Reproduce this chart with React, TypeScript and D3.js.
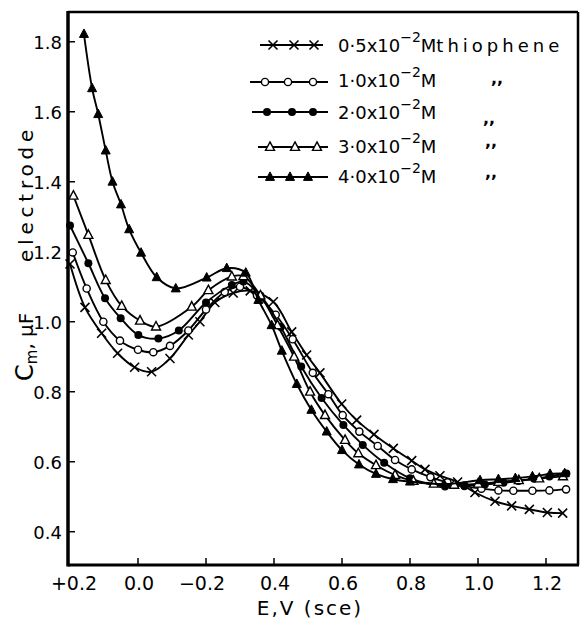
import React from "react";
import * as d3 from "d3";

// x values are plotted positions: -0.2 is the "+0.2" tick
const xTickValues = [-0.2, 0, 0.2, 0.4, 0.6, 0.8, 1.0, 1.2];
const xTickLabels = ["+0.2", "0.0", "\u22120.2", "0.4", "0.6", "0.8", "1.0", "1.2"];
const yTickValues = [0.4, 0.6, 0.8, 1.0, 1.2, 1.4, 1.6, 1.8];

const seriesNames = ["0.5", "1.0", "2.0", "3.0", "4.0"];
const seriesMarkers = ["cross", "openCircle", "filledCircle", "openTriangle", "filledTriangle"];

const s05: [number, number][] = [
  [-0.2, 1.165], [-0.156, 1.041], [-0.107, 0.967], [-0.06, 0.91], [-0.01, 0.87], [0.04, 0.857],
  [0.094, 0.895], [0.148, 0.962], [0.182, 1.0], [0.226, 1.055], [0.28, 1.082], [0.33, 1.088],
  [0.398, 1.057], [0.452, 0.971], [0.496, 0.905], [0.535, 0.854], [0.599, 0.765], [0.643, 0.719],
  [0.694, 0.678], [0.751, 0.638], [0.805, 0.603], [0.844, 0.578], [0.888, 0.56], [0.94, 0.542],
  [0.991, 0.512], [1.05, 0.487], [1.099, 0.474], [1.151, 0.464], [1.204, 0.455], [1.249, 0.453],
];
const s10: [number, number][] = [
  [-0.192, 1.198], [-0.151, 1.095], [-0.102, 1.0], [-0.053, 0.946], [0.0, 0.92], [0.045, 0.913],
  [0.094, 0.931], [0.148, 0.975], [0.2, 1.035], [0.255, 1.085], [0.3, 1.1], [0.35, 1.075],
  [0.405, 1.02], [0.455, 0.95], [0.514, 0.854], [0.56, 0.793], [0.602, 0.733], [0.651, 0.686],
  [0.705, 0.645], [0.756, 0.605], [0.805, 0.578], [0.86, 0.556], [0.91, 0.541], [0.96, 0.531],
  [1.01, 0.523], [1.06, 0.518], [1.104, 0.517], [1.16, 0.517], [1.21, 0.518], [1.259, 0.521],
];
const s20: [number, number][] = [
  [-0.2, 1.275], [-0.146, 1.167], [-0.097, 1.067], [-0.051, 1.01], [0.001, 0.962], [0.06, 0.952],
  [0.12, 0.975], [0.2, 1.055], [0.276, 1.105], [0.31, 1.115], [0.36, 1.075], [0.42, 0.985],
  [0.48, 0.872], [0.54, 0.782], [0.604, 0.705], [0.661, 0.648], [0.724, 0.597], [0.8, 0.553],
  [0.903, 0.529], [0.96, 0.532], [1.02, 0.535], [1.075, 0.54], [1.119, 0.545], [1.165, 0.551],
  [1.21, 0.558], [1.26, 0.566],
];
const s30: [number, number][] = [
  [-0.19, 1.36], [-0.146, 1.248], [-0.095, 1.119], [-0.048, 1.045], [0.006, 1.003], [0.053, 0.986],
  [0.158, 1.043], [0.207, 1.09], [0.276, 1.129], [0.31, 1.13], [0.36, 1.075], [0.41, 0.99],
  [0.459, 0.9], [0.506, 0.8], [0.55, 0.733], [0.609, 0.662], [0.648, 0.624], [0.7, 0.59],
  [0.756, 0.562], [0.81, 0.545], [0.87, 0.537], [0.93, 0.534], [1.0, 0.537], [1.06, 0.542],
  [1.12, 0.547], [1.18, 0.552], [1.25, 0.558],
];
const s40: [number, number][] = [
  [-0.159, 1.822], [-0.135, 1.667], [-0.117, 1.593], [-0.095, 1.489], [-0.075, 1.4], [-0.05, 1.335],
  [-0.026, 1.264], [0.009, 1.197], [0.055, 1.127], [0.111, 1.095], [0.202, 1.126], [0.261, 1.153],
  [0.317, 1.14], [0.354, 1.062], [0.393, 0.99], [0.423, 0.917], [0.467, 0.822], [0.51, 0.748],
  [0.555, 0.686], [0.6, 0.633], [0.65, 0.592], [0.7, 0.565], [0.75, 0.55], [0.8, 0.543],
  [0.9, 0.536], [1.006, 0.547], [1.06, 0.55], [1.11, 0.553], [1.16, 0.558], [1.212, 0.565],
  [1.255, 0.567],
];
const allSeries = [s05, s10, s20, s30, s40];

const FONT = "DejaVu Sans";

function Marker({ type, x, y }: { type: string; x: number; y: number }) {
  if (type === "cross") {
    const s = 4.5;
    return (
      <path d={`M${x - s},${y - s}L${x + s},${y + s}M${x - s},${y + s}L${x + s},${y - s}`}
        stroke="#000" strokeWidth={1.6} fill="none" />
    );
  }
  if (type === "openCircle") return <circle cx={x} cy={y} r={3.6} fill="#fff" stroke="#000" strokeWidth={1.4} />;
  if (type === "filledCircle") return <circle cx={x} cy={y} r={4} fill="#000" />;
  const h = 8.5, w = 9;
  const d = `M${x},${y - h * 0.6}L${x + w / 2},${y + h * 0.4}L${x - w / 2},${y + h * 0.4}Z`;
  if (type === "openTriangle") return <path d={d} fill="#fff" stroke="#000" strokeWidth={1.4} />;
  return <path d={d} fill="#000" stroke="#000" strokeWidth={1} />;
}

export default function App() {
  const left = 68, right = 578, top = 12, bottom = 565;
  const x = d3.scaleLinear().domain([-0.2059, 1.2941]).range([left, right]);
  const y = d3.scaleLinear().domain([0.3049, 1.885]).range([bottom, top]);
  const line = d3.line<[number, number]>()
    .x((d) => x(d[0]))
    .y((d) => y(d[1]))
    .curve(d3.curveCatmullRom.alpha(0.5));

  const legendRows = [
    { y: 45, base: 52, lineX: [260, 323], marks: [273, 294, 314], label: "0·5x10", ditto: null },
    { y: 82, base: 87, lineX: [250, 328], marks: [265, 288, 313], label: "1·0x10", ditto: [491, 84] },
    { y: 112, base: 119, lineX: [252, 328], marks: [267, 292, 313], label: "2·0x10", ditto: [483, 124] },
    { y: 147, base: 153, lineX: [258, 328], marks: [270, 295, 317], label: "3·0x10", ditto: [485, 147] },
    { y: 177, base: 183, lineX: [258, 328], marks: [270, 290, 308], label: "4·0x10", ditto: [485, 178] },
  ];

  return (
    <svg width={582} height={621} style={{ position: "absolute", left: 0, top: 0, background: "#fff" }}
      fontFamily={FONT}>
      <rect x={0} y={0} width={582} height={621} fill="#fff" />
      {/* frame */}
      <line x1={left} y1={top} x2={right} y2={top} stroke="#000" strokeWidth={2.5} />
      <line x1={right} y1={top} x2={right} y2={bottom} stroke="#000" strokeWidth={2.5} />
      <line x1={left} y1={top - 1} x2={left} y2={bottom + 1.5} stroke="#000" strokeWidth={3.5} />
      <line x1={left} y1={bottom} x2={right + 1} y2={bottom} stroke="#000" strokeWidth={3} />

      {/* y ticks */}
      {yTickValues.map((v) => (
        <g key={"y" + v}>
          <line x1={left} x2={left + 7} y1={y(v)} y2={y(v)} stroke="#000" strokeWidth={1.5} />
          <text x={62} y={y(v) + 7} fontSize={18} textAnchor="end">{v.toFixed(1)}</text>
        </g>
      ))}
      {/* x ticks */}
      {xTickValues.map((v, i) => (
        <g key={"x" + v}>
          {i > 0 && <line x1={x(v)} x2={x(v)} y1={bottom} y2={bottom - 7} stroke="#000" strokeWidth={1.5} />}
          <text x={x(v) + (i === 0 ? 4 : i === 2 ? -4 : 1)} y={590} fontSize={19} textAnchor="middle">{xTickLabels[i]}</text>
        </g>
      ))}

      {/* axis titles */}
      <text x={310} y={615} fontSize={20} textAnchor="middle" letterSpacing={2}>E,V  (sce)</text>
      <text transform="translate(33,0) rotate(-90)" fill="#000">
        <tspan x={-381} fontSize={24}>C</tspan>
        <tspan fontSize={15} dy={4}>m</tspan>
        <tspan fontSize={20} dy={-4}>, μF</tspan>
        <tspan x={-262} fontSize={20} letterSpacing={4.8}>electrode</tspan>
      </text>

      {/* curves */}
      {allSeries.map((s, i) => (
        <g key={"s" + i}>
          <path d={line(s) || ""} fill="none" stroke="#000" strokeWidth={1.9} />
          {s.map((p, j) => (
            <Marker key={j} type={seriesMarkers[i]} x={x(p[0])} y={y(p[1])} />
          ))}
        </g>
      ))}

      {/* legend */}
      {legendRows.map((r, i) => (
        <g key={"l" + i}>
          <line x1={r.lineX[0]} x2={r.lineX[1]} y1={r.y} y2={r.y} stroke="#000" strokeWidth={2} />
          {r.marks.map((mx, j) => (
            <Marker key={j} type={seriesMarkers[i]} x={mx} y={r.y} />
          ))}
          <text x={338} y={r.base} fontSize={18}>
            {r.label}
            <tspan fontSize={14} dy={-10}>−2</tspan>
            <tspan dy={10}>M</tspan>
            {i === 0 && <tspan letterSpacing={4}>thiophene</tspan>}
          </text>
          {r.ditto && (
            <text x={r.ditto[0]} y={r.ditto[1]} fontSize={16} fontWeight="bold">,,</text>
          )}
        </g>
      ))}
    </svg>
  );
}
